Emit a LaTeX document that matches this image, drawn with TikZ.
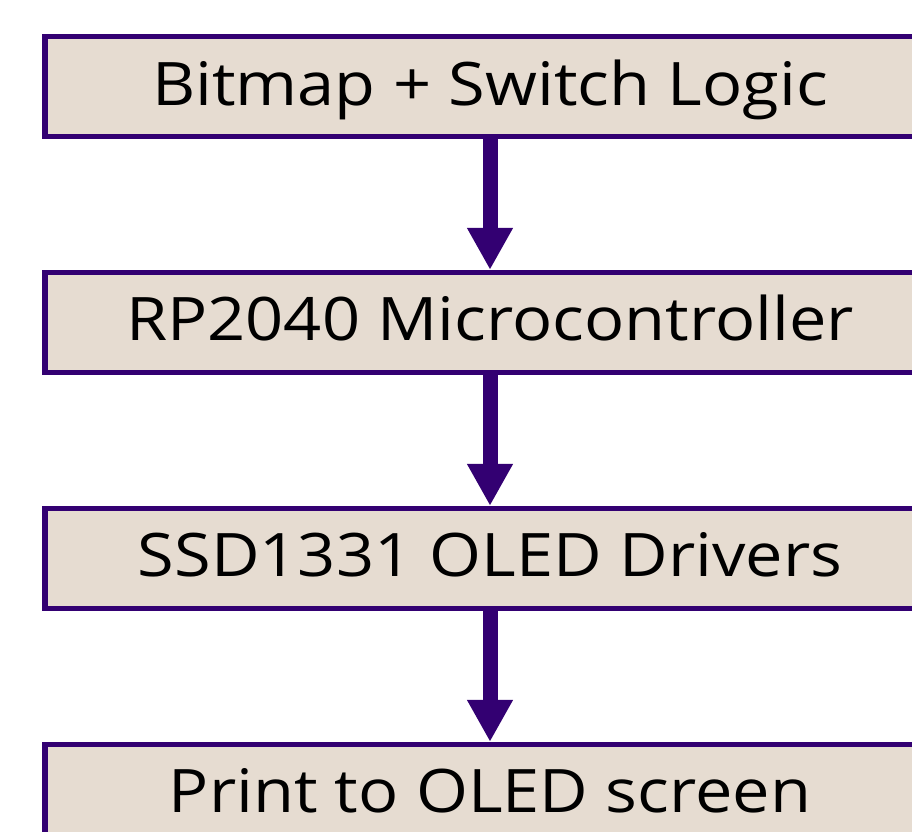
\documentclass[tikz,border=0pt]{standalone}
\usepackage{fontspec}
\setmainfont{Open Sans}[FakeStretch=1.112]
\usetikzlibrary{arrows.meta}
\definecolor{boxline}{HTML}{330072}
\definecolor{boxfill}{HTML}{E6DCD1}
\tikzset{
  stagebox/.style={draw=boxline, fill=boxfill, line width=5.3pt, rectangle,
    minimum width=890pt, minimum height=100pt, inner sep=0pt,
    text height=40pt, text depth=3.2pt, font=\fontsize{60pt}{72pt}\selectfont, text=black},
  flowarrow/.style={draw=boxline, line width=15pt,
    -{Triangle[width=43pt,length=42pt]}}
}
\begin{document}
\begin{tikzpicture}[x=1pt,y=1pt]
\useasboundingbox (0,0) rectangle (912,-831);
\node[stagebox] (b1) at (490,-86.6) {Bitmap + Switch Logic};
\node[stagebox] (b2) at (490,-322.5) {RP2040 Microcontroller};
\node[stagebox] (b3) at (490,-558.5) {SSD1331 OLED Drivers};
\node[stagebox] (b4) at (490,-794.5) {Print to OLED screen};
\draw[flowarrow] (b1.south) -- (b2.north);
\draw[flowarrow] (b2.south) -- (b3.north);
\draw[flowarrow] (b3.south) -- (b4.north);
\end{tikzpicture}
\end{document}
